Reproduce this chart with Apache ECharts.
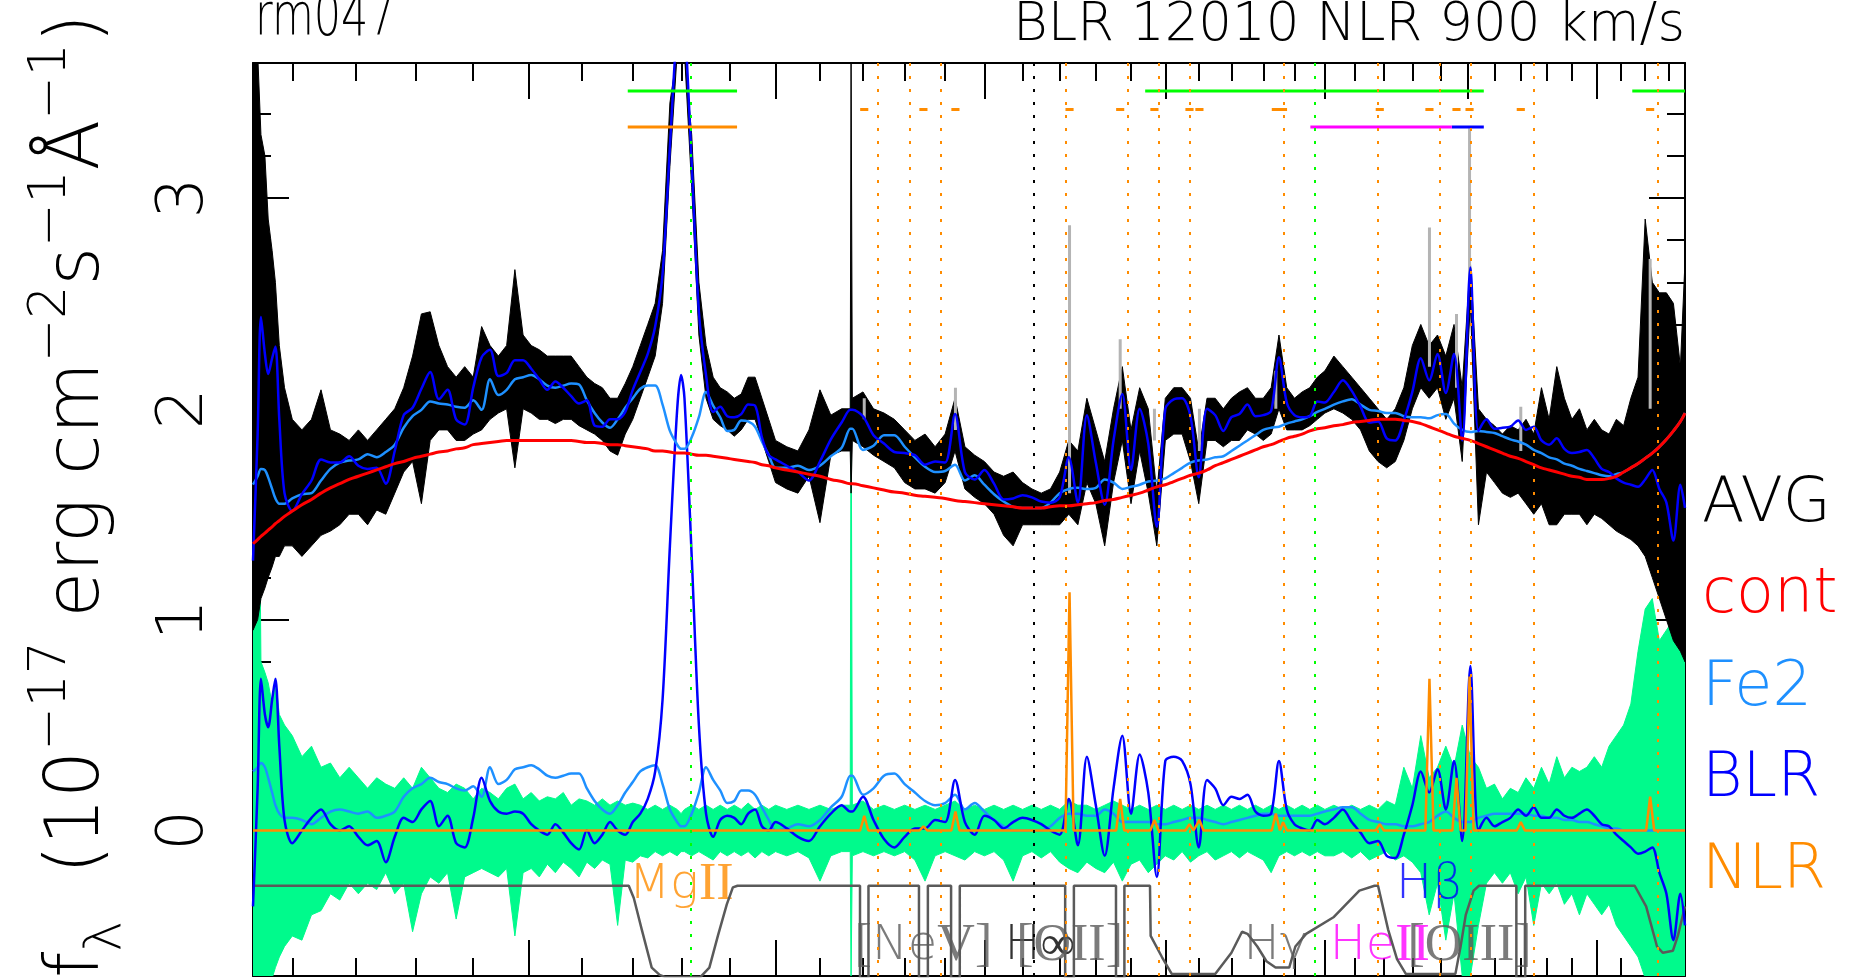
<!DOCTYPE html>
<html>
<head>
<meta charset="utf-8">
<title>rm047</title>
<script src="https://cdn.jsdelivr.net/npm/echarts@6.0.0/dist/echarts.min.js"></script>
<style>
  html, body { margin: 0; padding: 0; background: #fff; }
  #main { width: 1863px; height: 978px; }
</style>
</head>
<body>
<div id="main"></div>
<script>
// rest-frame wavelength grid (A) shared by the fit components
const wave = [
  2040, 2047, 2052, 2058, 2063, 2069, 2074, 2080, 2088, 2100,
  2115, 2130, 2145, 2160, 2175, 2190, 2205, 2220, 2235, 2250,
  2265, 2280, 2295, 2310, 2325, 2340, 2355, 2370, 2385, 2400,
  2415, 2430, 2445, 2460, 2475, 2490, 2505, 2520, 2535, 2550,
  2565, 2580, 2595, 2610, 2625, 2640, 2655, 2670, 2685, 2700,
  2715, 2730, 2745, 2760, 2775, 2790, 2798, 2805, 2820, 2835,
  2850, 2865, 2880, 2895, 2910, 2925, 2940, 2955, 2970, 2985,
  3000,
  3025, 3050, 3075, 3100, 3125, 3150, 3170, 3172, 3175, 3200,
  3225, 3250, 3275, 3300, 3325, 3350, 3375, 3400, 3425, 3450,
  3475, 3500, 3525, 3550, 3575, 3600, 3625, 3650, 3675, 3700,
  3725, 3750, 3775, 3800, 3825, 3850, 3875, 3900, 3925, 3950,
  3975, 4000, 4025, 4050, 4075, 4100, 4125, 4150, 4175, 4200,
  4225, 4250, 4275, 4300, 4325, 4350, 4375, 4400, 4425, 4450,
  4475, 4500,
  4530, 4560, 4590, 4620, 4650, 4680, 4710, 4740,
  4770, 4800, 4830, 4860, 4890, 4920, 4950, 4980, 5010, 5040,
  5070, 5100, 5130, 5160, 5190, 5220, 5250, 5280, 5310, 5340,
  5370, 5400, 5430, 5460, 5490, 5520, 5550, 5580, 5610, 5640,
  5670, 5700, 5730, 5760, 5790, 5820, 5850, 5870
]

// continuum (red)
const cont = [
  1.36, 1.38, 1.395, 1.41, 1.425, 1.44, 1.455, 1.47, 1.49, 1.515,
  1.545, 1.57, 1.60, 1.625, 1.645, 1.665, 1.68, 1.695, 1.71, 1.725,
  1.74, 1.75, 1.765, 1.775, 1.785, 1.795, 1.80, 1.81, 1.815, 1.83,
  1.835, 1.84, 1.845, 1.85, 1.85, 1.85, 1.85, 1.85, 1.85, 1.85,
  1.85, 1.85, 1.845, 1.84, 1.84, 1.835, 1.83, 1.83, 1.825, 1.82,
  1.815, 1.81, 1.80, 1.80, 1.795, 1.79, 1.79, 1.79, 1.785, 1.78,
  1.78, 1.775, 1.77, 1.765, 1.76, 1.755, 1.75, 1.745, 1.735, 1.73,
  1.72,
  1.71, 1.70, 1.69, 1.68, 1.665, 1.655, 1.645, 1.645, 1.645, 1.635,
  1.625, 1.615, 1.605, 1.60, 1.59, 1.585, 1.58, 1.575, 1.565, 1.56,
  1.555, 1.55, 1.545, 1.54, 1.535, 1.53, 1.53, 1.53, 1.535, 1.54,
  1.54, 1.545, 1.55, 1.555, 1.565, 1.57, 1.58, 1.59, 1.60, 1.615,
  1.63, 1.64, 1.655, 1.67, 1.685, 1.695, 1.71, 1.73, 1.745, 1.76,
  1.775, 1.79, 1.805, 1.82, 1.83, 1.845, 1.86, 1.87, 1.88, 1.895,
  1.905, 1.91,
  1.92, 1.925, 1.935, 1.94, 1.945, 1.95, 1.95, 1.95,
  1.945, 1.94, 1.93, 1.915, 1.90, 1.885, 1.87, 1.86, 1.85, 1.835,
  1.82, 1.805, 1.79, 1.775, 1.765, 1.75, 1.735, 1.72, 1.71, 1.70,
  1.69, 1.68, 1.675, 1.665, 1.665, 1.665, 1.67, 1.68, 1.70, 1.72,
  1.74, 1.765, 1.79, 1.82, 1.855, 1.895, 1.94, 1.98
]

// Fe II template (light blue, lower panel)
const fe2 = [
  0.28, 0.30, 0.32, 0.30, 0.25, 0.18, 0.12, 0.08, 0.06, 0.06,
  0.05, 0.03, 0.06, 0.09, 0.10, 0.09, 0.08, 0.09, 0.06, 0.07,
  0.09, 0.16, 0.20, 0.22, 0.25, 0.23, 0.22, 0.20, 0.19, 0.21,
  0.16, 0.30, 0.22, 0.24, 0.29, 0.30, 0.31, 0.29, 0.26, 0.25,
  0.26, 0.27, 0.27, 0.20, 0.14, 0.10, 0.08, 0.12, 0.18, 0.23,
  0.28, 0.30, 0.31, 0.22, 0.10, 0.04, 0.02, 0.02, 0.08, 0.18,
  0.30, 0.24, 0.19, 0.13, 0.14, 0.19, 0.19, 0.17, 0.11, 0.05,
  0.0,
  0.01, 0.03, 0.02, 0.05, 0.11, 0.16, 0.26, 0.26, 0.26, 0.17,
  0.20, 0.26, 0.27, 0.22, 0.18, 0.14, 0.12, 0.13, 0.17, 0.10,
  0.13, 0.09, 0.05, 0.02, 0.0, 0.0, 0.0, 0.0, 0.02, 0.06,
  0.08, 0.08, 0.07, 0.07, 0.10, 0.08, 0.04, 0.04, 0.04, 0.04,
  0.03, 0.03, 0.04, 0.05, 0.06, 0.06, 0.05, 0.04, 0.03, 0.04,
  0.05, 0.06, 0.07, 0.08, 0.08, 0.07, 0.07, 0.07, 0.07, 0.07,
  0.08, 0.09,
  0.10, 0.11, 0.11, 0.08, 0.05, 0.04, 0.03, 0.03,
  0.02, 0.02, 0.03, 0.04, 0.07, 0.09, 0.06, 0.04, 0.04, 0.06,
  0.07, 0.08, 0.08, 0.08, 0.08, 0.08, 0.07, 0.07, 0.06, 0.06,
  0.05, 0.05, 0.04, 0.04, 0.03, 0.02, 0.01, 0.01, 0.0, 0.0,
  0.0, 0.0, 0.0, 0.0, 0.0, 0.0, 0.0, 0.0
]

// broad-line component (blue, lower panel)
const blr = [
  -0.36, 0.20, 0.72, 0.55, 0.49, 0.62, 0.72, 0.40, 0.05, -0.06,
  0.0, 0.06, 0.10, 0.03, 0.0, 0.02, -0.03, -0.07, -0.05, -0.15,
  -0.03, 0.06, 0.04, 0.10, 0.14, 0.02, 0.07, -0.06, -0.08, 0.06,
  0.25, 0.14, 0.09, 0.08, 0.09, 0.08, 0.03, 0.0, -0.02, 0.03,
  -0.01, -0.06, -0.09, 0.0, -0.06, -0.02, 0.04, 0.0, -0.02, 0.04,
  0.08, 0.15, 0.28, 0.62, 1.35, 2.0, 2.16, 2.05, 1.3, 0.5,
  0.08, -0.03, 0.05, 0.07, 0.06, 0.03, 0.08, 0.10, 0.02, 0.0,
  0.04,
  0.01, -0.03, -0.05, 0.02, 0.08, 0.12, 0.09, 0.09, 0.09, 0.16,
  0.05, -0.04, -0.08, -0.03, 0.01, 0.01, 0.05, 0.04, 0.24, 0.04,
  -0.02, 0.07, 0.05, 0.01, 0.04, 0.06, 0.05, 0.03, 0.0, -0.02,
  0.15, -0.07, 0.35, 0.12, -0.12, 0.20, 0.45, 0.08, 0.36, 0.18,
  -0.22, 0.33, 0.35, 0.33, 0.22, -0.08, 0.24, 0.20, 0.12, 0.16,
  0.15, 0.17, 0.09, 0.07, 0.08, 0.33, 0.10, 0.03, 0.01, 0.0,
  0.05, 0.03,
  0.06, 0.10, 0.04, -0.01, -0.06, -0.05, -0.12, -0.13,
  -0.02, 0.12, 0.28, 0.18, 0.29, 0.10, 0.33, -0.05, 0.78, 0.0,
  0.06, 0.02, 0.04, 0.06, 0.10, 0.07, 0.11, 0.06, 0.06, 0.10,
  0.07, 0.06, 0.08, 0.10, 0.07, 0.03, 0.02, -0.02, -0.05, -0.08,
  -0.11, -0.10, -0.08, -0.20, -0.30, -0.52, -0.30, -0.45
]

// averaged spectrum, narrow lines removed (black): per-bin max / min
const dataHi = [
  3.7, 3.7, 3.3, 3.2, 2.9, 2.75, 2.6, 2.3, 2.1, 1.95,
  1.9, 1.95, 2.09, 1.9, 1.88, 1.85, 1.9, 1.85, 1.9, 1.95,
  2.0, 2.1, 2.25, 2.45, 2.46, 2.3, 2.2, 2.15, 2.2, 2.15,
  2.39, 2.3, 2.25, 2.3, 2.66, 2.35, 2.3, 2.28, 2.25, 2.25,
  2.25, 2.25, 2.2, 2.15, 2.12, 2.1, 2.05, 2.05, 2.12, 2.2,
  2.3, 2.4, 2.5, 2.75, 3.45, 3.7, 3.7, 3.7, 3.3, 2.6,
  2.3, 2.15, 2.1, 2.08, 2.05, 2.07, 2.15, 2.15, 2.05, 1.95,
  1.85,
  1.82, 1.8, 1.9, 2.09, 1.97, 2.0, 2.0, 3.7, 2.05, 2.08,
  2.0, 1.98, 1.95, 1.9, 1.85, 1.88, 1.82, 1.88, 2.05, 1.82,
  1.78, 1.75, 1.7, 1.68, 1.7, 1.65, 1.62, 1.6, 1.62, 1.7,
  1.85, 1.8, 2.05, 1.9, 1.75, 2.0, 2.2, 1.9, 2.1, 2.0,
  1.6, 2.05, 2.1, 2.1, 2.05, 1.8, 2.05, 2.05, 2.0, 2.05,
  2.08, 2.1, 2.05, 2.05, 2.1, 2.35, 2.1, 2.05, 2.08, 2.1,
  2.15, 2.18,
  2.25, 2.2, 2.15, 2.1, 2.05, 2.0, 1.95, 2.0,
  2.1, 2.3, 2.4, 2.3, 2.35, 2.25, 2.4, 2.1, 2.7, 2.0,
  1.95, 1.92, 1.88, 1.92, 1.9, 1.95, 1.88, 2.1, 1.95, 2.2,
  2.05, 1.95, 2.0, 1.9, 1.95, 1.9, 1.88, 1.95, 1.92, 2.05,
  2.15, 2.9, 2.6, 2.55, 2.55, 2.5, 2.2, 2.7
]
const dataLo = [
  0.95, 1.0, 1.1, 1.15, 1.2, 1.25, 1.3, 1.3, 1.35, 1.35,
  1.3, 1.35, 1.4, 1.42, 1.45, 1.5, 1.5, 1.45, 1.52, 1.5,
  1.6, 1.7, 1.75, 1.55, 1.85, 1.9, 1.9, 1.85, 1.85, 1.88,
  1.9, 1.95, 1.98, 2.0, 1.72, 2.0, 1.98, 1.95, 1.95, 1.93,
  1.95, 1.95, 1.92, 1.9, 1.88, 1.85, 1.8, 1.78, 1.88, 1.95,
  2.05, 2.15, 2.25, 2.5, 3.15, 3.7, 3.7, 3.7, 3.05, 2.35,
  2.05, 1.95, 1.92, 1.9, 1.87, 1.9, 1.95, 1.95, 1.85, 1.75,
  1.65,
  1.62, 1.6, 1.68, 1.46, 1.78, 1.8, 1.8, 1.6, 1.85, 1.82,
  1.78, 1.75, 1.72, 1.65, 1.62, 1.62, 1.6, 1.65, 1.8, 1.62,
  1.58, 1.55, 1.5, 1.4, 1.35, 1.45, 1.45, 1.45, 1.45, 1.45,
  1.5, 1.45, 1.65, 1.55, 1.35, 1.65, 1.85, 1.55, 1.8, 1.6,
  1.35, 1.85, 1.88, 1.88, 1.75, 1.55, 1.85, 1.85, 1.82, 1.85,
  1.85, 1.9, 1.88, 1.85, 1.88, 2.0, 1.9, 1.9, 1.9, 1.92,
  1.95, 1.98,
  2.0, 1.98, 1.95, 1.9, 1.8, 1.75, 1.72, 1.75,
  1.85, 2.0, 2.1, 2.05, 2.1, 1.95, 2.05, 1.75, 2.5, 1.45,
  1.7, 1.65, 1.6, 1.58, 1.6, 1.55, 1.5, 1.55, 1.45, 1.45,
  1.5, 1.5, 1.5, 1.45, 1.5, 1.48, 1.45, 1.42, 1.4, 1.38,
  1.35, 1.3, 1.2, 1.1, 1.0, 0.9, 0.85, 0.8
]

// fit residual (green): per-bin max / min
const residHi = [
  2.7, 2.6, 0.8, 0.75, 0.7, 0.6, 0.72, 0.55, 0.5, 0.45,
  0.35, 0.4, 0.3, 0.32, 0.25, 0.3, 0.25, 0.2, 0.25, 0.22,
  0.2, 0.25, 0.2, 0.3, 0.25, 0.2, 0.18, 0.22, 0.2, 0.15,
  0.2, 0.18, 0.15, 0.2, 0.22, 0.15, 0.18, 0.14, 0.16, 0.15,
  0.18, 0.12, 0.15, 0.14, 0.12, 0.15, 0.12, 0.14, 0.12, 0.13,
  0.12, 0.1, 0.12, 0.1, 0.12, 0.1, 0.08, 0.1, 0.12, 0.1,
  0.12, 0.1, 0.12, 0.1, 0.12, 0.1, 0.13, 0.1, 0.12, 0.1,
  0.12,
  0.1, 0.12, 0.1, 0.12, 0.1, 0.12, 0.12, 2.25, 0.12, 0.14,
  0.1, 0.12, 0.1, 0.12, 0.1, 0.12, 0.1, 0.12, 0.14, 0.1,
  0.12, 0.1, 0.12, 0.1, 0.12, 0.1, 0.12, 0.1, 0.12, 0.1,
  0.14, 0.12, 0.12, 0.1, 0.12, 0.14, 0.12, 0.1, 0.12, 0.1,
  0.12, 0.1, 0.12, 0.1, 0.12, 0.1, 0.12, 0.1, 0.12, 0.1,
  0.12, 0.1, 0.12, 0.1, 0.12, 0.1, 0.12, 0.1, 0.12, 0.1,
  0.12, 0.1,
  0.12, 0.1, 0.12, 0.1, 0.12, 0.1, 0.14, 0.12,
  0.3, 0.2, 0.45, 0.25, 0.3, 0.4, 0.3, 0.5, 0.35, 0.3,
  0.2, 0.22, 0.15, 0.2, 0.18, 0.25, 0.2, 0.3, 0.22, 0.35,
  0.25, 0.3, 0.28, 0.3, 0.35, 0.3, 0.4, 0.45, 0.5, 0.6,
  0.85, 1.05, 1.1, 0.9, 0.95, 1.0, 1.05, 1.0
]
const residLo = [
  -0.7, -0.7, -0.7, -0.7, -0.7, -0.7, -0.65, -0.6, -0.55, -0.5,
  -0.52, -0.4, -0.38, -0.3, -0.33, -0.25, -0.3, -0.25, -0.28, -0.2,
  -0.3, -0.25, -0.48, -0.3, -0.22, -0.25, -0.2, -0.42, -0.22, -0.2,
  -0.18, -0.2, -0.22, -0.18, -0.5, -0.2, -0.18, -0.22, -0.16, -0.2,
  -0.15, -0.18, -0.22, -0.15, -0.18, -0.14, -0.16, -0.45, -0.14, -0.15,
  -0.12, -0.13, -0.1, -0.12, -0.1, -0.12, -0.1, -0.1, -0.12, -0.1,
  -0.12, -0.14, -0.1, -0.12, -0.1, -0.12, -0.1, -0.13, -0.1, -0.12,
  -0.1,
  -0.12, -0.1, -0.13, -0.24, -0.12, -0.1, -0.1, -0.7, -0.12, -0.1,
  -0.12, -0.1, -0.12, -0.1, -0.14, -0.24, -0.12, -0.1, -0.12, -0.14,
  -0.1, -0.12, -0.1, -0.14, -0.24, -0.12, -0.1, -0.13, -0.1, -0.15,
  -0.18, -0.2, -0.15, -0.18, -0.2, -0.15, -0.24, -0.16, -0.14, -0.2,
  -0.16, -0.12, -0.14, -0.1, -0.15, -0.12, -0.1, -0.14, -0.12, -0.1,
  -0.13, -0.1, -0.12, -0.14, -0.2, -0.12, -0.1, -0.12, -0.1, -0.12,
  -0.1, -0.12,
  -0.12, -0.1, -0.13, -0.1, -0.14, -0.12, -0.1, -0.14,
  -0.12, -0.15, -0.2, -0.4, -0.25, -0.52, -0.3, -0.69, -0.69, -0.45,
  -0.25, -0.2, -0.25, -0.2, -0.3, -0.22, -0.45, -0.25, -0.3, -0.25,
  -0.35, -0.3, -0.4, -0.3, -0.35, -0.4, -0.35, -0.45, -0.5, -0.55,
  -0.6, -0.7, -0.7, -0.7, -0.7, -0.7, -0.7, -0.7
]

// narrow lines: [wavelength, peak flux] (orange) and their width in km/s
const nlrFwhm = 900
const nlrPeaks = [
  [3203, 0.07], [3346, 0.02], [3426, 0.09], [3727, 1.13], [3869, 0.15], [3968, 0.05],
  [4072, 0.03], [4102, 0.05], [4340, 0.08], [4363, 0.04], [4686, 0.03], [4861, 0.72],
  [4959, 0.25], [5007, 0.73], [5200, 0.04], [5721, 0.16]
]
const narrowLines = nlrPeaks.map(p => p[0])
const broadLines = [2798, 4471]
const balmerLimit = [3646]

// original spectrum where narrow lines stick out (grey): [wavelength, base, top]
const greySpikes = [
  [3203, 1.95, 2.05], [3426, 1.9, 2.1], [3727, 1.6, 2.87], [3869, 2.0, 2.33],
  [3968, 1.85, 2.0], [4102, 1.8, 2.0], [4340, 2.0, 2.18], [4861, 2.2, 2.86],
  [4959, 2.1, 2.45], [5007, 2.6, 3.33], [5200, 1.8, 2.01], [5721, 2.0, 2.71]
]

// fitting windows (dark grey): [wavelength, level]
const windowCurve = [
  [2040, -0.262], [2692, -0.262], [2702, -0.32], [2718, -0.47], [2738, -0.65], [2754, -0.685],
  [2766, -0.695], [2838, -0.695], [2857, -0.65], [2875, -0.50], [2894, -0.35], [2907, -0.27],
  [2917, -0.262],
  [3193, -0.262], [3193, -0.70], [3213, -0.70], [3213, -0.262],
  [3335, -0.262], [3335, -0.70], [3357, -0.70], [3357, -0.262],
  [3415, -0.262], [3415, -0.70], [3437, -0.70], [3437, -0.262],
  [3715, -0.262], [3715, -0.70], [3739, -0.70], [3739, -0.262],
  [3857, -0.262], [3857, -0.70], [3881, -0.70], [3881, -0.262],
  [3955, -0.262], [3957, -0.50], [3990, -0.60], [4019, -0.68], [4150, -0.68], [4200, -0.58],
  [4233, -0.48], [4250, -0.49], [4281, -0.55], [4310, -0.62], [4339, -0.65], [4383, -0.65],
  [4403, -0.55], [4438, -0.49], [4530, -0.41], [4616, -0.285], [4668, -0.262], [4680, -0.262],
  [4715, -0.47], [4746, -0.61], [4777, -0.68], [4955, -0.68], [4974, -0.55], [4993, -0.40],
  [5022, -0.285], [5042, -0.262],
  [5183, -0.262], [5183, -0.70], [5217, -0.70], [5217, -0.262],
  [5656, -0.262], [5704, -0.36], [5750, -0.55], [5775, -0.58], [5818, -0.57], [5839, -0.50],
  [5870, -0.36]
]

// line ranges marked at the top: [start, end] in A
const blrRanges = [[2690, 2916], [3941, 5060], [5646, 5870]]
const mgRange = [[2690, 2916]]
const heiiRange = [[4452, 4942]]
const hbRange = [[4942, 5060]]

// axis
const waveMin = 2040
const waveMax = 5870
const fluxMin = -0.69
const fluxMax = 3.64
const waveMajor = [2500, 3000, 3500, 4000, 4500, 5000, 5500]
const waveMinor = [2100, 2200, 2300, 2400, 2600, 2700, 2800, 2900, 3100, 3200, 3300, 3400,
  3600, 3700, 3800, 3900, 4100, 4200, 4300, 4400, 4600, 4700, 4800, 4900, 5100, 5200, 5300,
  5400, 5600, 5700, 5800]
const fluxMajor = [0, 1, 2, 3]
const fluxMinor = [-0.6, -0.4, -0.2, 0.2, 0.4, 0.6, 0.8, 1.2, 1.4, 1.6, 1.8, 2.2, 2.4, 2.6, 2.8, 3.2, 3.4]

const SANS = 'DejaVu Sans'
const SERIF = 'Liberation Serif'
const ORANGE = '#ff8c00'
const FE2 = '#1e90ff'
const BLUE = '#0000ff'
const GREEN = '#00ff00'
const RESID = '#00fa8c'
const GREY = '#5a5a5a'

const lg = Math.log10
const nlrFrac = nlrFwhm / 299792.458

const xy = ys => wave.map((w, i) => [lg(w), ys[i]])
const stacked = (...parts) => wave.map((w, i) => [lg(w), parts.reduce((s, p) => s + p[i], 0)])
const segs = (list, y) => list.flatMap(([a, b]) => [[lg(a), y], [lg(b), y], [lg(b), '-']])
const clampY = v => Math.max(fluxMin - 0.05, Math.min(fluxMax + 0.05, v))

// dense spectrum drawn as a filled min/max band
const band = (name, hi, lo, color) => ({
  name, type: 'custom', coordinateSystem: 'cartesian2d', silent: true, animation: false, clip: true,
  data: [[lg(wave[0]), lo[0]]],
  renderItem: (params, api) => {
    const top = wave.map((w, i) => api.coord([lg(w), clampY(hi[i])]))
    const bottom = wave.map((w, i) => api.coord([lg(w), clampY(lo[i])])).reverse()
    return {
      type: 'polygon', shape: { points: top.concat(bottom) },
      style: { fill: color, stroke: color, lineWidth: 1 }
    }
  }
})

const nlrCurve = [[lg(waveMin), 0]]
nlrPeaks.forEach(([w, f]) => {
  nlrCurve.push([lg(w * (1 - nlrFrac)), 0], [lg(w), f], [lg(w * (1 + nlrFrac)), 0])
})
nlrCurve.push([lg(waveMax), 0])

const greyLine = greySpikes.flatMap(([w, lo, hi]) => [[lg(w), lo], [lg(w), hi], [lg(w), '-']])
const nlrDashes = narrowLines.map(w => [w * (1 - nlrFrac), w * (1 + nlrFrac)])

const line = (name, data, color, width, extra) => Object.assign({
  name, type: 'line', data, symbol: 'none', silent: true, animation: false,
  connectNulls: false, lineStyle: { color, width }
}, extra || {})

const dotted = (w, color) => ({ xAxis: lg(w), lineStyle: { color, type: [3, 10], width: 2 } })
const vlines = [
  ...narrowLines.map(w => dotted(w, ORANGE)),
  ...broadLines.map(w => dotted(w, GREEN)),
  ...balmerLimit.map(w => dotted(w, '#000'))
]

const labelRich = {
  s: { fontFamily: SANS, fontWeight: 200, fontSize: 48 },
  r: { fontFamily: SERIF, fontSize: 52 },
  g: { fontFamily: SANS, fontWeight: 200, fontSize: 48 }
}
const lineLabels = [
  ['{s|Mg}{r|II}', 2798, -0.26, ORANGE],
  ['{r|[}{s|Ne}{r|V]}', 3346, -0.55, GREY],
  ['{s|H}{g|\u221e}', 3646, -0.55, '#000'],
  ['{r|[OII]}', 3727, -0.55, GREY],
  ['{s|H}{g|\u03b3}', 4340, -0.55, GREY],
  ['{s|He}{r|II}', 4686, -0.55, '#ff00ff'],
  ['{s|H}{g|\u03b2}', 4861, -0.26, BLUE],
  ['{r|[OIII]}', 5007, -0.55, GREY]
]

const tickStyle = { color: '#000', width: 2 }
const xBase = {
  type: 'value', min: lg(waveMin), max: lg(waveMax),
  splitLine: { show: false }, axisLabel: { show: false }
}
const xAxisFor = (position, ticks, length, showLine) => Object.assign({}, xBase, {
  position,
  axisLine: { show: showLine, onZero: false, lineStyle: { color: '#000', width: 2 } },
  axisTick: { inside: true, length, customValues: ticks.map(lg), lineStyle: tickStyle }
})
const yBase = { type: 'value', min: fluxMin, max: fluxMax, splitLine: { show: false } }
const yAxisFor = (position, ticks, length, showLine, labels) => Object.assign({}, yBase, {
  position,
  axisLine: { show: showLine, onZero: false, lineStyle: { color: '#000', width: 2 } },
  axisTick: { inside: true, length, customValues: ticks, lineStyle: tickStyle },
  axisLabel: labels
    ? { show: true, customValues: ticks, rotate: 90, margin: 36, color: '#000',
        fontFamily: SANS, fontWeight: 200, fontSize: 64 }
    : { show: false }
})

const text = (x, y, str, size, color, align) => ({
  type: 'text', x, y, silent: true,
  style: { text: str, fill: color, font: `200 ${size}px "${SANS}"`,
    textAlign: align, textVerticalAlign: 'middle' }
})

const chart = echarts.init(document.getElementById('main'), null, { renderer: 'canvas' })
chart.setOption({
  backgroundColor: '#fff',
  animation: false,
  grid: { left: 253, right: 178, top: 63, bottom: 2, containLabel: false },
  xAxis: [
    xAxisFor('bottom', waveMajor, 36, true),
    xAxisFor('bottom', waveMinor, 18, false),
    xAxisFor('top', waveMajor, 36, true),
    xAxisFor('top', waveMinor, 18, false)
  ],
  yAxis: [
    yAxisFor('left', fluxMajor, 36, true, true),
    yAxisFor('left', fluxMinor, 18, false, false),
    yAxisFor('right', fluxMajor, 36, true, false),
    yAxisFor('right', fluxMinor, 18, false, false)
  ],
  series: [
    band('resid', residHi, residLo, RESID),
    line('orig', greyLine, '#b4b4b4', 3),
    band('AVG', dataHi, dataLo, '#000'),
    line('window', windowCurve.map(([w, v]) => [lg(w), v]), GREY, 2.5),
    line('Fe2', xy(fe2), FE2, 2.5, { smooth: 0.3 }),
    line('BLR', xy(blr), BLUE, 2.5, { smooth: 0.3 }),
    line('NLR', nlrCurve, ORANGE, 2.5, {
      markLine: { silent: true, animation: false, symbol: ['none', 'none'],
        label: { show: false }, lineStyle: { type: [3, 10], width: 2 }, data: vlines }
    }),
    line('cont+Fe2', stacked(cont, fe2), FE2, 2.5, { smooth: 0.3 }),
    line('model', stacked(cont, fe2, blr), BLUE, 2.5, { smooth: 0.3 }),
    line('cont', xy(cont), '#ff0000', 3, { smooth: 0.5 }),
    line('blrRanges', segs(blrRanges, 3.507), GREEN, 3),
    line('nlrDashes', segs(nlrDashes, 3.42), ORANGE, 3),
    line('mgRange', segs(mgRange, 3.337), ORANGE, 3),
    line('hbRange', segs(hbRange, 3.337), BLUE, 3),
    line('heiiRange', segs(heiiRange, 3.337), '#ff00ff', 3),
    {
      type: 'scatter', silent: true, animation: false, symbolSize: 0,
      data: lineLabels.map(([str, w, y, color]) => ({
        value: [lg(w), y],
        label: { show: true, position: 'inside', formatter: str, color, rich: labelRich }
      }))
    }
  ],
  graphic: [
    Object.assign(text(255, 20, 'rm047', 58, '#000', 'left'), { scaleX: 0.74 }),
    text(1685, 26, 'BLR 12010 NLR 900 km/s', 53, '#000', 'right'),
    text(1702, 505, 'AVG', 62, '#000', 'left'),
    text(1702, 596, 'cont', 62, '#ff0000', 'left'),
    text(1702, 689, 'Fe2', 62, FE2, 'left'),
    text(1702, 780, 'BLR', 62, BLUE, 'left'),
    text(1702, 872, 'NLR', 62, ORANGE, 'left'),
    {
      type: 'text', x: 79, y: 496, rotation: Math.PI / 2, silent: true,
      style: {
        text: '{n|f}{b|\u03bb}{n|  (10}{p|\u221217}{n| erg cm}{p|\u22122}{n|s}{p|\u22121}{n|\u00c5}{p|\u22121}{n|)}',
        textAlign: 'center', textVerticalAlign: 'middle', fill: '#000',
        rich: {
          n: { fontFamily: SANS, fontWeight: 200, fontSize: 74, lineHeight: 108, fill: '#000' },
          p: { fontFamily: SANS, fontWeight: 200, fontSize: 52, verticalAlign: 'top', fill: '#000' },
          b: { fontFamily: SANS, fontWeight: 200, fontSize: 52, verticalAlign: 'bottom', fill: '#000' }
        }
      }
    }
  ]
})
</script>
</body>
</html>
